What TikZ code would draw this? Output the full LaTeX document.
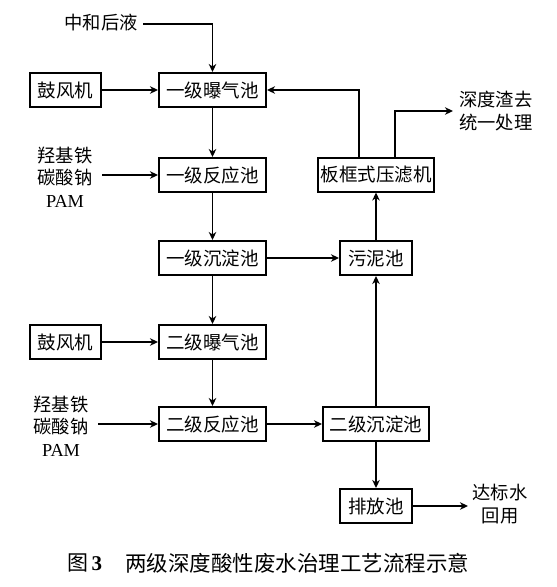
\documentclass[tikz,border=0pt]{standalone}
\usepackage{fontspec}
\setmainfont{Liberation Serif}
\newfontfamily\cjk{Noto Sans CJK SC}
\usetikzlibrary{arrows.meta}
\begin{document}
\begin{tikzpicture}[x=1pt,y=-1pt,
  box/.style={draw,line width=2pt,minimum height=34pt,inner sep=0pt,font=\cjk\fontsize{18.5}{20}\selectfont},
  lab/.style={inner sep=0pt,align=center,font=\cjk\fontsize{18.3}{22.5}\selectfont},
  flow/.style={line width=1.8pt,-{Stealth[length=8pt,width=7.5pt,inset=2.5pt]}}]
\useasboundingbox (0,0) rectangle (557,587);
\node[box,minimum width=71pt] (fj1) at (65.5,90) {鼓风机};
\node[box,minimum width=107pt] (bq1) at (212.5,90) {一级曝气池};
\node[box,minimum width=107pt] (fy1) at (212.5,175) {一级反应池};
\node[box,minimum width=107pt] (cd1) at (212.5,258) {一级沉淀池};
\node[box,minimum width=71pt] (fj2) at (65.5,342) {鼓风机};
\node[box,minimum width=107pt] (bq2) at (212.5,342) {二级曝气池};
\node[box,minimum width=107pt] (fy2) at (212.5,424) {二级反应池};
\node[box,minimum width=106pt] (cd2) at (376,424) {二级沉淀池};
\node[box,minimum width=72pt] (pf) at (376,506) {排放池};
\node[box,minimum width=72pt] (wn) at (376,258) {污泥池};
\node[box,minimum width=116pt] (yl) at (376,174.5) {板框式压滤机};
% labels
\node[lab,anchor=east] (zh) at (138,23) {中和后液};
\node[lab] (yj1) at (65,177) {羟基铁\\碳酸钠\\{\rmfamily PAM}};
\node[lab] (yj2) at (61,426) {羟基铁\\碳酸钠\\{\rmfamily PAM}};
\node[lab,anchor=west] (sd) at (459,111) {深度渣去\\统一处理};
\node[lab] (db) at (500,504) {达标水\\回用};
\coordinate (zhs) at (143,24);
\coordinate (yl1) at (359,0);
\coordinate (yl2) at (395,0);
\coordinate (sde) at (453,111);
\coordinate (in1) at (102,175);
\coordinate (in2) at (98,424);
\coordinate (pfe) at (468,506);
% connectors
\draw[flow] (zhs) -| (bq1.north);
\draw[flow] (fj1) -- (bq1);
\draw[flow] (bq1) -- (fy1);
\draw[flow] (fy1) -- (cd1);
\draw[flow] (cd1) -- (bq2);
\draw[flow] (fj2) -- (bq2);
\draw[flow] (bq2) -- (fy2);
\draw[flow] (in1) -- (fy1.west);
\draw[flow] (in2) -- (fy2.west);
\draw[flow] (fy2) -- (cd2);
\draw[flow] (cd2) -- (pf);
\draw[flow] (cd2) -- (wn);
\draw[flow] (cd1) -- (wn);
\draw[flow] (wn) -- (yl);
\draw[flow] (yl1 |- yl.north) |- (bq1.east);
\draw[flow] (yl2 |- yl.north) |- (sde);
\draw[flow] (pf.east) -- (pfe);
% caption
\node[inner sep=0pt,anchor=west,font=\cjk\fontsize{21}{24}\selectfont] (cap1) at (67,563) {图\,{\rmfamily\bfseries 3}};
\node[inner sep=0pt,anchor=west,font=\cjk\fontsize{21.5}{24}\selectfont] (cap2) at (125,563) {两级深度酸性废水治理工艺流程示意};
\end{tikzpicture}
\end{document}
